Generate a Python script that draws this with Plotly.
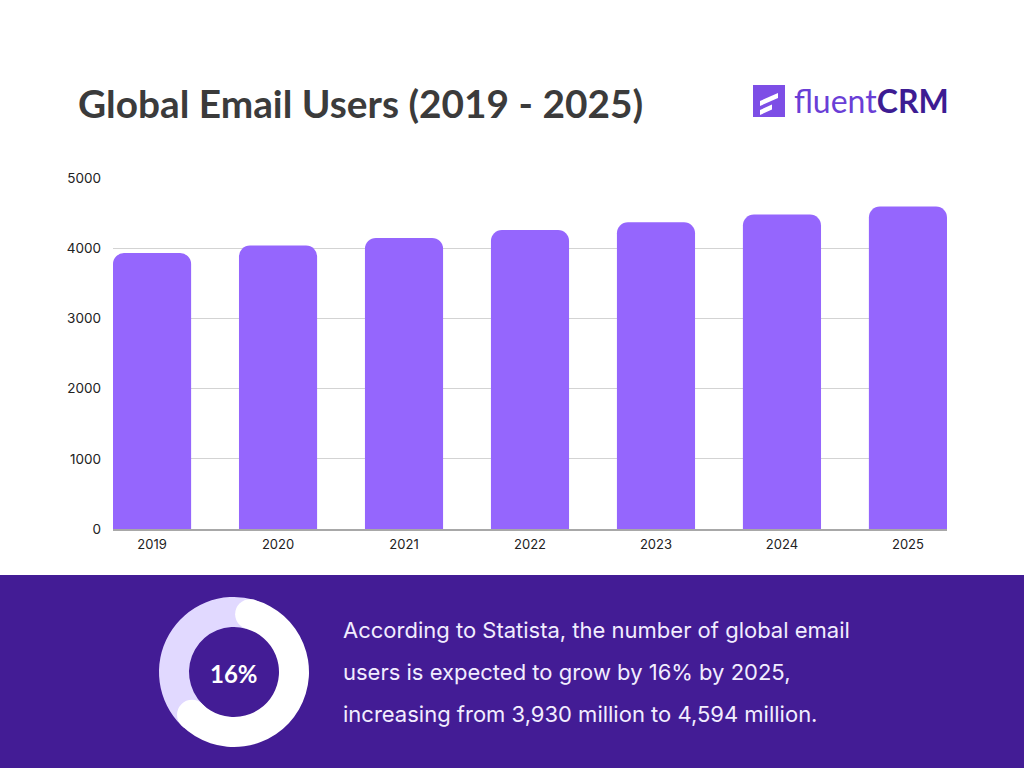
import math
import plotly.graph_objects as go

# ---------------- data ----------------
years = ["2019", "2020", "2021", "2022", "2023", "2024", "2025"]
users = [3930, 4037, 4147, 4258, 4371, 4480, 4594]
y_ticks = [0, 1000, 2000, 3000, 4000, 5000]
donut_labels = ["filled", "rest"]
donut_values = [58, 42]
donut_text = "16%"
title_text = "Global Email Users (2019 - 2025)"
body_lines = [
    "According to Statista, the number of global email",
    "users is expected to grow by 16% by 2025,",
    "increasing from 3,930 million to 4,594 million.",
]

W, H = 1024, 768
BAR = "#9566fd"
BAND = "#431c95"


def px(x):
    return x / W


def py(y):
    return 1 - y / H


fig = go.Figure()

fig.add_trace(go.Bar(
    x=years, y=users, marker=dict(color=BAR, line=dict(width=0), cornerradius=11),
    width=0.62, hoverinfo="skip", showlegend=False,
))

# donut
d_cx, d_cy, d_ro, d_ri = 234, 672, 75, 45
start_deg = 15.6
fig.add_trace(go.Pie(
    labels=donut_labels, values=donut_values, hole=d_ri / d_ro, sort=False,
    direction="clockwise", rotation=start_deg, textinfo="none", hoverinfo="skip",
    marker=dict(colors=["#ffffff", "#e1d9ff"], line=dict(width=0)),
    domain=dict(x=[px(d_cx - d_ro), px(d_cx + d_ro)], y=[py(d_cy + d_ro), py(d_cy - d_ro)]),
    showlegend=False,
))

shapes = []
# purple band
shapes.append(dict(type="rect", xref="paper", yref="paper", x0=0, x1=1, y0=0, y1=py(575),
                   fillcolor=BAND, line=dict(width=0), layer="below"))
# rounded caps of donut arc
mid_r = (d_ro + d_ri) / 2
cap_r = (d_ro - d_ri) / 2
end_deg = start_deg + 360 * donut_values[0] / sum(donut_values)
for ang in (start_deg, end_deg):
    a = math.radians(ang)
    cx = d_cx + mid_r * math.sin(a)
    cy = d_cy - mid_r * math.cos(a)
    shapes.append(dict(type="circle", xref="paper", yref="paper",
                       x0=px(cx - cap_r), x1=px(cx + cap_r), y0=py(cy + cap_r), y1=py(cy - cap_r),
                       fillcolor="#ffffff", line=dict(width=0), layer="above"))

# logo icon
lx0, ly0, ls = 753, 85, 32
shapes.append(dict(type="rect", xref="paper", yref="paper",
                   x0=px(lx0), x1=px(lx0 + ls), y0=py(ly0 + ls), y1=py(ly0),
                   fillcolor="#7d4ee6", line=dict(width=0)))


def para(x0, y0, x1, y1, x2, y2, x3, y3):
    return (f"M {px(x0)} {py(y0)} L {px(x1)} {py(y1)} L {px(x2)} {py(y2)} "
            f"L {px(x3)} {py(y3)} Z")


shapes.append(dict(type="path", xref="paper", yref="paper",
                   path=para(760, 101, 778, 93, 778, 98, 760, 106),
                   fillcolor="#ffffff", line=dict(width=0)))
shapes.append(dict(type="path", xref="paper", yref="paper",
                   path=para(760, 110, 772, 104.5, 772, 109.5, 760, 115),
                   fillcolor="#ffffff", line=dict(width=0)))

annotations = []
annotations.append(dict(text=f"<b>{title_text}</b>", xref="paper", yref="paper",
                        x=px(76), y=py(103), xanchor="left", yanchor="middle", showarrow=False,
                        font=dict(family="Lato", size=38.8, color="#3b3b3b")))
annotations.append(dict(text="<span style='color:#6a3ed6'>fluent</span><b>CRM</b>",
                        xref="paper", yref="paper", x=px(951), y=py(101), xanchor="right",
                        yanchor="middle", showarrow=False,
                        font=dict(family="Lato", size=32, color="#3d1c93")))
annotations.append(dict(text=f"<b>{donut_text}</b>", xref="paper", yref="paper",
                        x=px(d_cx), y=py(673), xanchor="center", yanchor="middle",
                        showarrow=False, font=dict(family="Lato", size=24, color="#ffffff")))
for i, line in enumerate(body_lines):
    annotations.append(dict(text=line, xref="paper", yref="paper", x=px(341), y=py(630 + 42 * i),
                            xanchor="left", yanchor="middle", showarrow=False,
                            font=dict(family="Inter", size=22, color="#f2edff")))

fig.update_layout(
    template="none",
    width=W, height=H, margin=dict(l=0, r=0, t=0, b=0, pad=0, autoexpand=False),
    paper_bgcolor="#ffffff", plot_bgcolor="rgba(0,0,0,0)",
    shapes=shapes, annotations=annotations, bargap=0.38,
    xaxis=dict(domain=[px(113), px(947)], range=[-0.31, 6.31], type="category",
               automargin=False, showgrid=False, showline=True, linecolor="#a8a8a8",
               linewidth=1.5, ticks="", ticklabelstandoff=3, zeroline=False,
               tickfont=dict(family="Inter", size=13, color="#222222"), fixedrange=True),
    yaxis=dict(domain=[py(529), py(178)], range=[0, 5000], tickvals=y_ticks,
               automargin=False, showgrid=True, gridcolor="#d3d3d3", gridwidth=1,
               zeroline=False, showline=False, ticks="", ticklabelstandoff=11,
               tickfont=dict(family="Inter", size=13.5, color="#222222"), fixedrange=True),
)

fig.write_html(
    "out.html",
    config={"displayModeBar": False},
    post_script="document.body.style.margin='0';document.body.style.overflow='hidden';",
)
